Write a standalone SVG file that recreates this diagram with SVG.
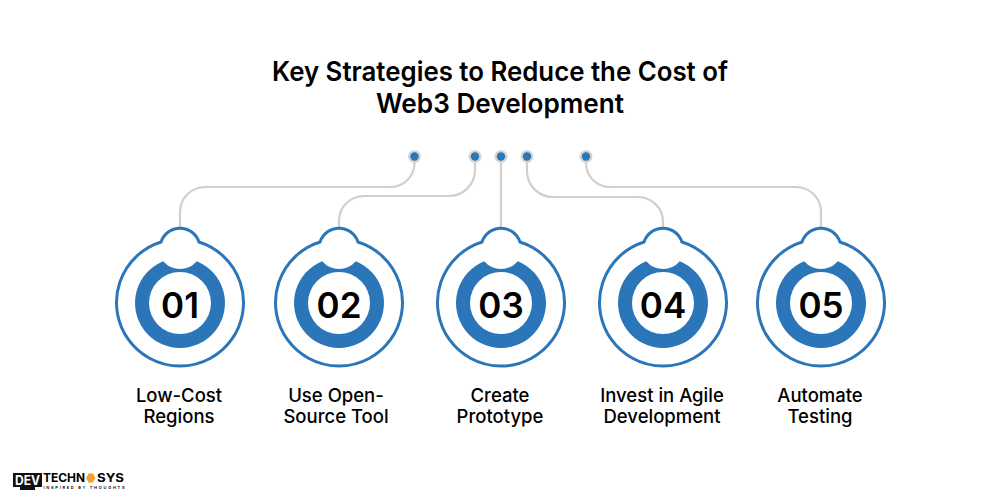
<svg xmlns="http://www.w3.org/2000/svg" width="1000" height="500" viewBox="0 0 1000 500">
<style>
text{font-family:"Inter","Liberation Sans",sans-serif;fill:#000;text-anchor:middle}
.t{font-size:27px;font-weight:600}
.l{font-size:18.500px;font-weight:500}
.n{font-size:35px;font-weight:600}
.c{fill:none;stroke:#cfcfcf;stroke-width:2.2}
.o{fill:#fff;stroke:#2b76b9;stroke-width:3}
.r{fill:#2b76b9;fill-rule:evenodd}
</style>
<defs>
<g id="badge">
<path class="o" d="M-19-61A20 20 0 0 1 19-61A63.5 63.5 0 1 1-19-61Z"/>
<path class="r" d="M-16.800-41.800A22 22 0 0 0 16.800-41.800A45 45 0 1 1-16.800-41.800ZM-31 0A31 31 0 1 0 31 0A31 31 0 1 0-31 0Z"/>
</g>
<g id="dot"><circle r="6.500" fill="#d4d4d4"/><circle r="4.200" fill="#2b76b9"/></g>
</defs>
<rect width="1000" height="500" fill="#fff"/>
<text class="t" x="500" y="81" textLength="456" lengthAdjust="spacingAndGlyphs">Key Strategies to Reduce the Cost of</text>
<text class="t" x="500" y="113" textLength="248" lengthAdjust="spacingAndGlyphs">Web3 Development</text>
<g id="connectors">
<path class="c" d="M414.500 157V163A24 24 0 0 1 390.500 187H205A25 25 0 0 0 180 212V228"/>
<path class="c" d="M475 157V170A26 26 0 0 1 449 196H364A25 25 0 0 0 339 221V228"/>
<path class="c" d="M501 157V228"/>
<path class="c" d="M527 157V171A26 26 0 0 0 553 197H638A25 25 0 0 1 663 222V228"/>
<path class="c" d="M586 157V163A24 24 0 0 0 610 187H796A25 25 0 0 1 821 212V228"/>
</g>
<g id="dots">
<use href="#dot" x="414.500" y="156.500"/>
<use href="#dot" x="475" y="156.500"/>
<use href="#dot" x="501" y="156.500"/>
<use href="#dot" x="527" y="156.500"/>
<use href="#dot" x="586" y="156.500"/>
</g>
<g id="node1"><use href="#badge" x="180" y="303"/><text class="n" x="180" y="318">01</text><text class="l" x="179" y="402">Low-Cost</text><text class="l" x="179" y="423">Regions</text></g>
<g id="node2"><use href="#badge" x="339" y="303"/><text class="n" x="339" y="318">02</text><text class="l" x="336" y="402">Use Open-</text><text class="l" x="336" y="423">Source Tool</text></g>
<g id="node3"><use href="#badge" x="501" y="303"/><text class="n" x="501" y="318">03</text><text class="l" x="500" y="402">Create</text><text class="l" x="500" y="423">Prototype</text></g>
<g id="node4"><use href="#badge" x="663" y="303"/><text class="n" x="663" y="318">04</text><text class="l" x="662" y="402">Invest in Agile</text><text class="l" x="662" y="423">Development</text></g>
<g id="node5"><use href="#badge" x="821" y="303"/><text class="n" x="821" y="318">05</text><text class="l" x="820" y="402">Automate</text><text class="l" x="820" y="423">Testing</text></g>
<g id="logo">
<rect x="13" y="473" width="29" height="14" fill="#111"/>
<rect x="20" y="487" width="15" height="3" fill="#111"/>
<text x="27.500" y="485" style="font-size:13px;font-weight:700;fill:#fff" textLength="25" lengthAdjust="spacingAndGlyphs">DEV</text>
<text x="64" y="482.300" style="font-size:12px;font-weight:700" textLength="42" lengthAdjust="spacingAndGlyphs">TECHN</text>
<polygon points="88.500,473.500 93,473.500 95.500,478 93,482.500 88.500,482.500 86,478" fill="#f0a030"/>
<text x="110.500" y="482.300" style="font-size:12px;font-weight:700" textLength="27" lengthAdjust="spacingAndGlyphs">SYS</text>
<text x="84" y="489.200" style="font-size:4px;font-weight:600" textLength="81" lengthAdjust="spacing">INSPIRED BY THOUGHTS</text>
</g>
</svg>
